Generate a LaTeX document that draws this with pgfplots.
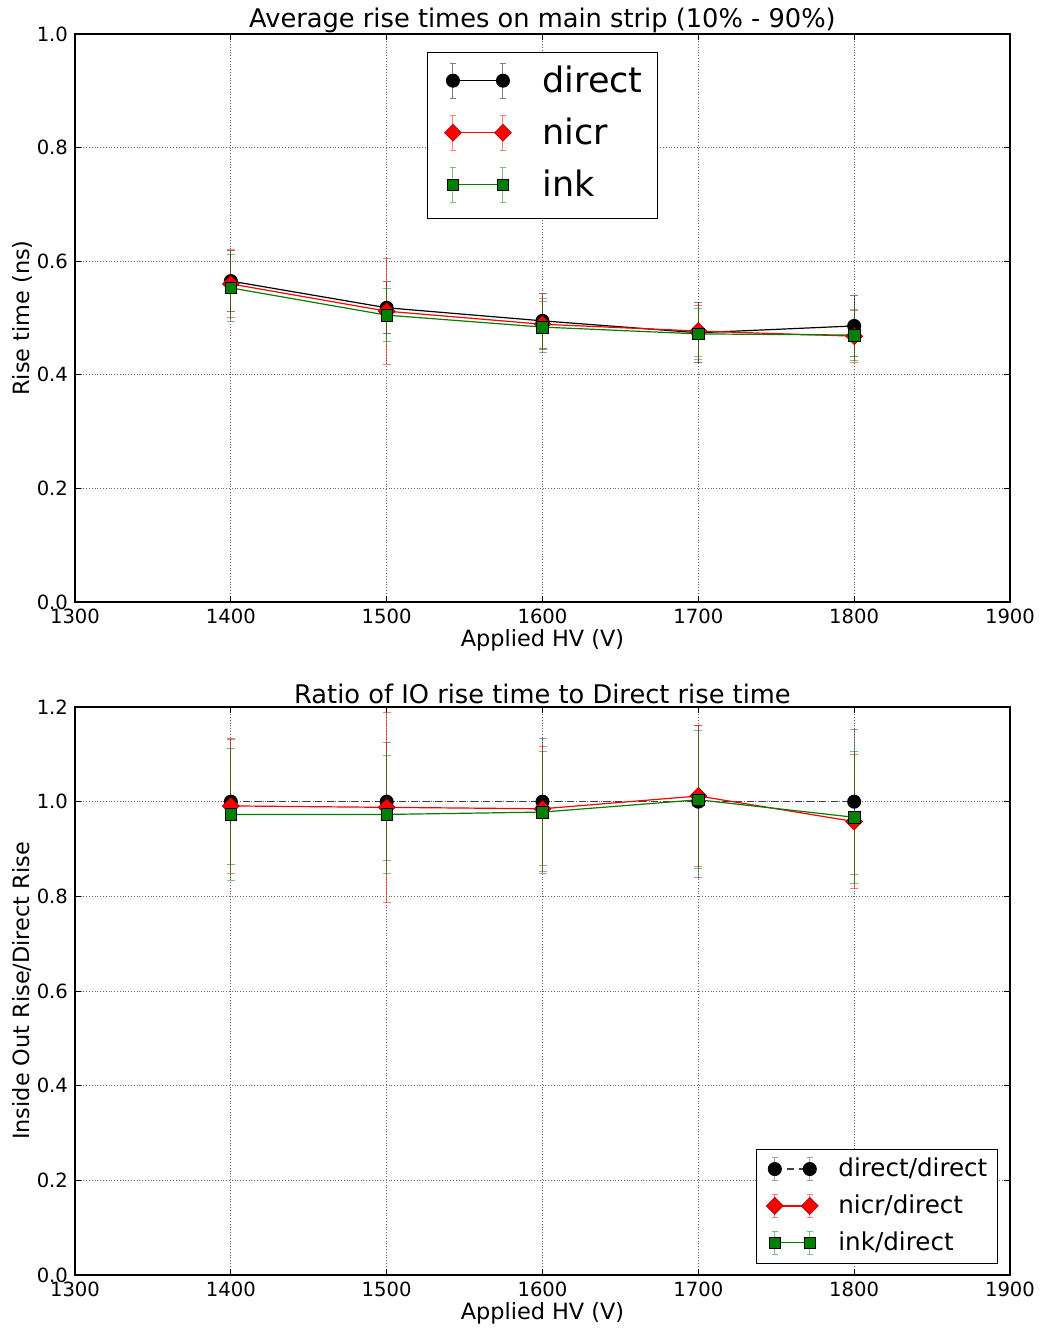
\documentclass[border=0pt]{standalone}
\usepackage{fontspec}
\setmainfont{DejaVu Sans}
\usepackage{pgfplots}
\usepackage{pgfplotstable}
\pgfplotsset{compat=1.18}
\definecolor{mgreen}{HTML}{008000}

% HV  direct err  nicr err  ink err
\pgfplotstableread{
x    d     de    n     ne    i     ie
1400 0.565 0.053 0.560 0.060 0.553 0.059
1500 0.518 0.046 0.512 0.093 0.505 0.047
1600 0.495 0.048 0.489 0.045 0.484 0.045
1700 0.474 0.053 0.477 0.045 0.472 0.045
1800 0.486 0.053 0.468 0.046 0.470 0.045
}\risetab

% ratios to direct
\pgfplotstableread{
x    d     de    n     ne    i     ie
1400 1.000 0.132 0.991 0.142 0.973 0.139
1500 1.000 0.125 0.988 0.201 0.973 0.124
1600 1.000 0.134 0.985 0.132 0.978 0.129
1700 1.000 0.161 1.012 0.149 1.004 0.146
1800 1.000 0.153 0.958 0.141 0.967 0.139
}\ratiotab

\pgfplotsset{
  every axis title shift=0pt,
  hvaxis/.style={
    scale only axis, width=467.5pt, height=284pt,
    xmin=1300, xmax=1900, xtick={1300,1400,...,1900},
    grid=major, major grid style={densely dotted, black!60, line width=0.4pt},
    axis line style={line width=0.6pt},
    tick style={black, line width=0.5pt}, major tick length=3pt,
    tick align=inside,
    ticklabel style={font=\fontsize{9.8}{11}\selectfont},
    /pgf/number format/assume math mode=true,
    x tick label style={/pgf/number format/1000 sep=},
    y tick label style={/pgf/number format/.cd, fixed, fixed zerofill, precision=1},
    label style={font=\fontsize{11.2}{13}\selectfont},
    title style={font=\fontsize{12.85}{15}\selectfont, anchor=center},
    xlabel={Applied HV (V)},
    xlabel style={at={(axis description cs:0.5,-0.067)}, anchor=center},
    ylabel style={at={(axis description cs:-0.0567,0.5)}, anchor=center},
    legend cell align=left,
  },
  eb/.style={
    error bars/y dir=both, error bars/y explicit,
    error bars/error bar style={line width=0.5pt, opacity=0.6, solid},
    error bars/error mark options={rotate=90, mark size=2pt, line width=0.5pt, opacity=0.5, solid},
  },
  dsty/.style={black, line width=0.6pt, mark=*, mark size=3.2pt,
    mark options={fill=black, draw=black, solid}},
  nsty/.style={red, line width=0.6pt, mark=square*, mark size=3pt,
    mark options={rotate=45, fill=red, draw=red!60!black, line width=0.3pt, solid}},
  isty/.style={mgreen, line width=0.6pt, mark=square*, mark size=2.9pt,
    mark options={fill=mgreen, draw=black, line width=0.3pt, solid}},
  % args: line length, bar half height, left pad, gap to text, extra depth
  errlegend/.style n args={5}{legend image code/.code={%
      \path (-#3,-#2-#5) (#1+#4,0pt);
      \draw[##1,solid,mark=none,opacity=0.5,line width=0.5pt]
        (0pt,-#2)--(0pt,#2) (#1,-#2)--(#1,#2)
        (-1.5pt,#2)--(1.5pt,#2) (-1.5pt,-#2)--(1.5pt,-#2)
        (#1-1.5pt,#2)--(#1+1.5pt,#2) (#1-1.5pt,-#2)--(#1+1.5pt,-#2);
      \draw[##1] plot coordinates {(0pt,0pt) (#1,0pt)};
  }},
}

\begin{document}
\begin{tikzpicture}
\path[use as bounding box] (-37.5pt,-363pt) rectangle (482.5pt,301pt);

\begin{axis}[hvaxis, at={(0pt,0pt)}, anchor=south west,
  ymin=0, ymax=1, ytick={0,0.2,...,1.0},
  ylabel={Rise time (ns)},
  title={Average rise times on main strip (10\% - 90\%)},
  title style={at={(axis description cs:0.5,1.0246)}},
  errlegend={25pt}{8.75pt}{5pt}{19.5pt}{3pt},
  legend style={at={(axis description cs:0.5,0.968)}, anchor=north,
    draw=black, line width=0.5pt, inner xsep=7.5pt, inner ysep=5pt,
    font=\fontsize{17.5}{20}\selectfont, row sep=5pt,
    nodes={inner sep=0pt}},
]
\addplot+[dsty, eb] table[x=x, y=d, y error=de] {\risetab};
\addplot+[nsty, eb] table[x=x, y=n, y error=ne] {\risetab};
\addplot+[isty, eb] table[x=x, y=i, y error=ie] {\risetab};
\legend{direct, nicr, ink}
\end{axis}

\begin{axis}[hvaxis, at={(0pt,-336.5pt)}, anchor=south west,
  ymin=0, ymax=1.2, ytick={0,0.2,...,1.2},
  ylabel={Inside Out Rise/Direct Rise},
  title={Ratio of IO rise time to Direct rise time},
  title style={at={(axis description cs:0.5,1.0229)}},
  errlegend={17.5pt}{5.8pt}{3.5pt}{14pt}{0.5pt},
  legend style={at={(axis description cs:0.987,0.0195)}, anchor=south east,
    draw=black, line width=0.5pt, inner xsep=5pt, inner ysep=3.7pt,
    font=\fontsize{12.3}{14}\selectfont, row sep=5.8pt,
    nodes={inner sep=0pt}},
]
\addplot+[dsty, eb, black!75, dash pattern=on 3.5pt off 2.5pt] table[x=x, y=d, y error=de] {\ratiotab};
\addplot+[nsty, eb] table[x=x, y=n, y error=ne] {\ratiotab};
\addplot+[isty, eb] table[x=x, y=i, y error=ie] {\ratiotab};
\legend{direct/direct, nicr/direct, ink/direct}
\end{axis}
\end{tikzpicture}
\end{document}
